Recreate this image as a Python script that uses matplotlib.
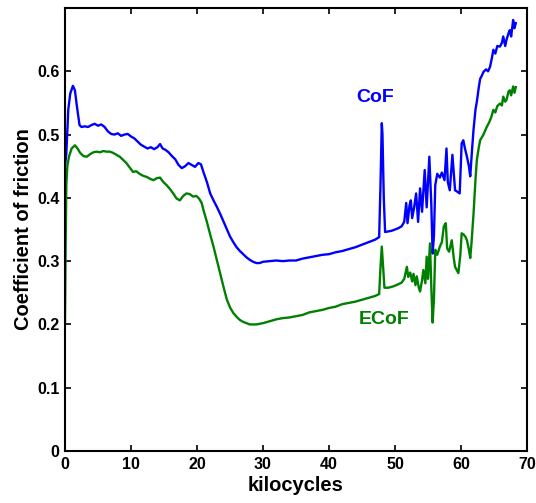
import matplotlib
matplotlib.use("Agg")
import matplotlib.pyplot as plt

plt.rcParams['font.family'] = ['Liberation Sans', 'DejaVu Sans']
plt.rcParams['font.weight'] = 'bold'

# CoF (blue) series: kilocycles / coefficient
cof_k = [0.0, 0.2, 0.5, 0.8, 1.2, 1.5, 1.8, 2.2, 2.5, 3.0, 3.5, 4.0, 4.5, 5.0, 5.5, 6.0, 6.5, 7.0,
         7.5, 8.0, 8.5, 9.0, 9.5, 10.0, 10.5, 11.0, 11.5, 12.0, 12.5, 13.0, 13.5, 14.0, 14.4, 14.8,
         15.2, 15.7, 16.2, 16.7, 17.2, 17.7, 18.2, 18.7, 19.2, 19.7, 20.2, 20.6, 21.0, 21.5, 22.0,
         22.5, 23.0, 23.5, 24.0, 24.5, 25.0, 25.5, 26.0, 26.5, 27.0, 27.5, 28.0, 28.5, 29.0, 29.5,
         30.0, 31.0, 32.0, 33.0, 34.0, 35.0, 36.0, 37.0, 38.0, 39.0, 40.0, 41.0, 42.0, 43.0, 44.0,
         45.0, 46.0, 47.0, 47.6, 47.8, 48.0, 48.1, 48.3, 48.5, 49.0, 49.5, 50.0, 50.5, 51.0, 51.4,
         51.7, 51.9, 52.2, 52.4, 52.6, 52.9, 53.2, 53.5, 53.8, 54.1, 54.5, 54.8, 55.2, 55.5, 55.7,
         55.9, 56.1, 56.4, 56.8, 57.1, 57.5, 57.8, 58.0, 58.3, 58.7, 59.1, 59.4, 59.8, 60.1, 60.35,
         60.6, 60.9, 61.2, 61.4, 61.7, 61.9, 62.2, 62.4, 62.7, 62.9, 63.2, 63.4, 63.8, 64.1, 64.4,
         64.7, 64.9, 65.2, 65.5, 65.9, 66.2, 66.4, 66.7, 66.9, 67.2, 67.4, 67.6, 67.9, 68.1, 68.3]
cof_v = [0.45, 0.47, 0.54, 0.565, 0.577, 0.57, 0.545, 0.515, 0.512, 0.513, 0.512, 0.515, 0.517,
         0.514, 0.516, 0.512, 0.505, 0.501, 0.500, 0.502, 0.498, 0.500, 0.501, 0.497, 0.494, 0.489,
         0.484, 0.481, 0.478, 0.480, 0.477, 0.480, 0.485, 0.478, 0.476, 0.472, 0.466, 0.461, 0.452,
         0.447, 0.450, 0.455, 0.452, 0.449, 0.455, 0.453, 0.440, 0.425, 0.407, 0.396, 0.386, 0.375,
         0.363, 0.351, 0.339, 0.330, 0.322, 0.316, 0.311, 0.306, 0.302, 0.299, 0.297, 0.297, 0.299,
         0.300, 0.301, 0.300, 0.301, 0.301, 0.304, 0.306, 0.308, 0.310, 0.311, 0.314, 0.316, 0.319,
         0.322, 0.326, 0.330, 0.334, 0.338, 0.42, 0.518, 0.50, 0.40, 0.346, 0.347, 0.348, 0.350,
         0.352, 0.355, 0.362, 0.392, 0.360, 0.388, 0.396, 0.368, 0.385, 0.407, 0.362, 0.415, 0.378,
         0.444, 0.385, 0.465, 0.39, 0.312, 0.34, 0.420, 0.438, 0.432, 0.440, 0.428, 0.478, 0.425,
         0.412, 0.468, 0.412, 0.410, 0.407, 0.486, 0.491, 0.478, 0.465, 0.450, 0.434, 0.480, 0.508,
         0.540, 0.552, 0.575, 0.588, 0.594, 0.599, 0.603, 0.600, 0.607, 0.622, 0.634, 0.628, 0.640,
         0.639, 0.645, 0.655, 0.640, 0.650, 0.660, 0.665, 0.655, 0.681, 0.668, 0.676]

# ECoF (green) series
ecof_k = [0.0, 0.1, 0.2, 0.35, 0.6, 1.0, 1.5, 1.9, 2.3, 2.8, 3.3, 3.8, 4.3, 4.8, 5.3, 5.8, 6.3, 6.8,
          7.3, 7.8, 8.3, 8.8, 9.3, 9.8, 10.3, 10.8, 11.3, 11.8, 12.4, 12.9, 13.4, 13.9, 14.4, 14.9,
          15.4, 15.9, 16.4, 16.9, 17.4, 17.9, 18.4, 18.9, 19.4, 19.9, 20.3, 20.7, 21.0, 21.5, 22.0,
          22.5, 23.0, 23.5, 24.0, 24.5, 25.0, 25.5, 26.0, 26.5, 27.0, 27.5, 28.0, 29.0, 30.0, 31.0,
          32.0, 33.0, 34.0, 35.0, 36.0, 37.0, 38.0, 39.0, 40.0, 41.0, 42.0, 43.0, 44.0, 45.0, 46.0,
          47.0, 47.6, 47.8, 48.0, 48.2, 48.4, 49.0, 49.7, 50.4, 51.0, 51.4, 51.8, 52.0, 52.3, 52.6,
          52.8, 53.1, 53.3, 53.6, 53.8, 54.1, 54.3, 54.6, 54.8, 55.0, 55.3, 55.5, 55.7, 55.9, 56.1,
          56.4, 56.8, 57.1, 57.4, 57.7, 57.9, 58.2, 58.6, 58.9, 59.1, 59.4, 59.6, 59.9, 60.1, 60.4,
          60.7, 60.9, 61.2, 61.4, 61.6, 61.9, 62.2, 62.4, 62.7, 62.9, 63.4, 63.9, 64.3, 64.6, 64.9,
          65.2, 65.5, 65.9, 66.2, 66.4, 66.7, 66.9, 67.2, 67.4, 67.6, 67.9, 68.1, 68.3]
ecof_v = [0.205, 0.33, 0.42, 0.45, 0.465, 0.478, 0.483, 0.478, 0.471, 0.466, 0.465, 0.469, 0.472,
          0.473, 0.472, 0.474, 0.473, 0.473, 0.471, 0.468, 0.465, 0.460, 0.455, 0.448, 0.441, 0.442,
          0.438, 0.435, 0.433, 0.430, 0.428, 0.431, 0.432, 0.425, 0.420, 0.414, 0.407, 0.399, 0.396,
          0.403, 0.407, 0.406, 0.402, 0.403, 0.399, 0.392, 0.380, 0.362, 0.342, 0.323, 0.302, 0.281,
          0.260, 0.240, 0.227, 0.218, 0.212, 0.207, 0.204, 0.202, 0.200, 0.200, 0.202, 0.205, 0.208,
          0.210, 0.211, 0.213, 0.215, 0.219, 0.221, 0.223, 0.226, 0.228, 0.232, 0.234, 0.236, 0.239,
          0.242, 0.245, 0.248, 0.29, 0.323, 0.29, 0.258, 0.258, 0.260, 0.263, 0.266, 0.272, 0.291,
          0.275, 0.282, 0.268, 0.280, 0.262, 0.276, 0.258, 0.252, 0.270, 0.286, 0.265, 0.307, 0.272,
          0.328, 0.26, 0.203, 0.24, 0.318, 0.310, 0.323, 0.330, 0.355, 0.360, 0.32, 0.315, 0.333,
          0.305, 0.291, 0.285, 0.281, 0.31, 0.344, 0.342, 0.338, 0.333, 0.318, 0.305, 0.33, 0.375,
          0.430, 0.46, 0.48, 0.491, 0.500, 0.512, 0.520, 0.528, 0.539, 0.535, 0.545, 0.549, 0.546,
          0.560, 0.552, 0.555, 0.568, 0.570, 0.562, 0.576, 0.566, 0.575]

x_ticks = [0, 10, 20, 30, 40, 50, 60, 70]
y_ticks = [0, 0.1, 0.2, 0.3, 0.4, 0.5, 0.6]
y_tick_labels = ['0', '0.1', '0.2', '0.3', '0.4', '0.5', '0.6']

fig = plt.figure(figsize=(5.36, 5.03), dpi=100)
ax = fig.add_axes([65/536, 1 - 451/503, 462/536, 443/503])

ax.plot(cof_k, cof_v, color='#0000ff', lw=1.7)
ax.plot(ecof_k, ecof_v, color='#008000', lw=1.7)

ax.set_xlim(0, 70)
ax.set_ylim(0, 0.7)
ax.set_xticks(x_ticks)
ax.set_yticks(y_ticks)
ax.set_yticklabels(y_tick_labels)
ax.tick_params(direction='in', top=True, right=True, length=4, width=1.2,
               labelsize=11.5, pad=4)
for lab in ax.get_xticklabels() + ax.get_yticklabels():
    lab.set_fontweight('bold')
for s in ax.spines.values():
    s.set_linewidth(1.5)

ax.set_xlabel('kilocycles', fontsize=14.5, fontweight='bold', labelpad=3)
ax.set_ylabel('Coefficient of friction', fontsize=14.5, fontweight='bold', labelpad=3)

ax.text(46.97, 0.558, 'CoF', color='#0000ff', fontsize=14, fontweight='bold',
        ha='center', va='center')
ax.text(48.3, 0.207, 'ECoF', color='#008000', fontsize=14, fontweight='bold',
        ha='center', va='center')

fig.savefig('out.png', dpi=100)
